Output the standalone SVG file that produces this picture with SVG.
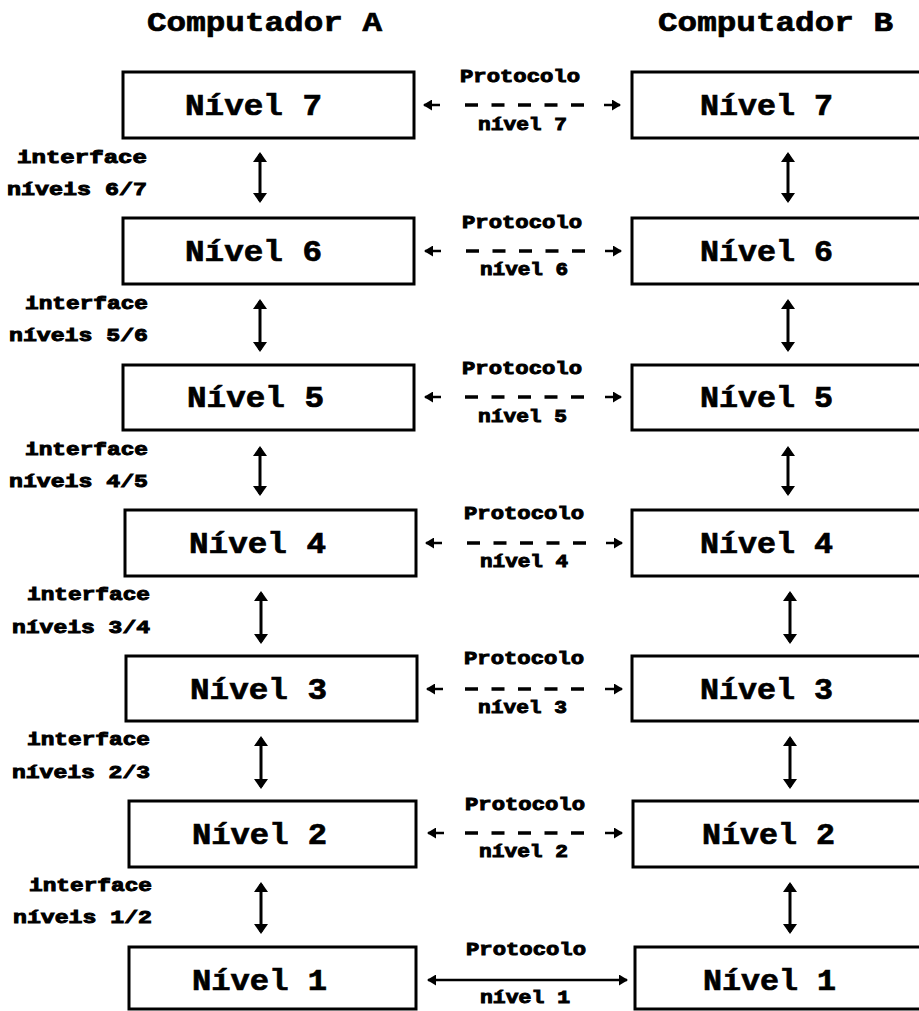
<svg xmlns="http://www.w3.org/2000/svg" width="919" height="1011" viewBox="0 0 919 1011">
<style>
.box{fill:#fff;stroke:#000;stroke-width:3}
.t{font-family:"Liberation Mono","DejaVu Sans Mono",monospace;font-weight:bold;fill:#000;stroke:#000;stroke-width:0.7}
.title{font-size:28px}
.nv{font-size:30px}
.sm{font-size:19px;stroke-width:1}
.v{stroke:#000;stroke-width:3;fill:none;marker-start:url(#vh);marker-end:url(#vh)}
.h{stroke:#000;stroke-width:2.5;fill:none;marker-end:url(#hh)}
.dash{stroke:#000;stroke-width:3.5;stroke-dasharray:13 13.5;fill:none}
.solid{stroke:#000;stroke-width:2.5;fill:none;marker-start:url(#hh);marker-end:url(#hh)}
</style>
<defs>
<marker id="vh" viewBox="0 0 10 14" markerUnits="userSpaceOnUse" markerWidth="10" markerHeight="14" refX="8" refY="7" orient="auto-start-reverse"><path d="M0,0 L10,7 L0,14 z" fill="#000"/></marker>
<marker id="hh" viewBox="0 0 9 11" markerUnits="userSpaceOnUse" markerWidth="9" markerHeight="11" refX="8" refY="5.5" orient="auto-start-reverse"><path d="M0,0 L9,5.5 L0,11 z" fill="#000"/></marker>
</defs>
<rect width="919" height="1011" fill="#fff"/>
<g id="titles">
<text class="t title" x="147" y="31" textLength="235" lengthAdjust="spacingAndGlyphs">Computador A</text>
<text class="t title" x="658" y="31" textLength="235" lengthAdjust="spacingAndGlyphs">Computador B</text>
</g>
<g id="A7"><rect class="box" x="123" y="72" width="291" height="66"/><text class="t nv" x="185" y="115" textLength="137" lengthAdjust="spacingAndGlyphs">Nível 7</text></g>
<g id="A6"><rect class="box" x="123" y="218" width="291" height="66"/><text class="t nv" x="185" y="261" textLength="137" lengthAdjust="spacingAndGlyphs">Nível 6</text></g>
<g id="A5"><rect class="box" x="123" y="365" width="291" height="65"/><text class="t nv" x="187" y="407" textLength="137" lengthAdjust="spacingAndGlyphs">Nível 5</text></g>
<g id="A4"><rect class="box" x="125" y="510" width="291" height="66"/><text class="t nv" x="189" y="553" textLength="137" lengthAdjust="spacingAndGlyphs">Nível 4</text></g>
<g id="A3"><rect class="box" x="126" y="656" width="291" height="65"/><text class="t nv" x="190" y="699" textLength="137" lengthAdjust="spacingAndGlyphs">Nível 3</text></g>
<g id="A2"><rect class="box" x="129" y="801" width="287" height="66"/><text class="t nv" x="192" y="844" textLength="135" lengthAdjust="spacingAndGlyphs">Nível 2</text></g>
<g id="A1"><rect class="box" x="129" y="947" width="287" height="62"/><text class="t nv" x="192" y="990" textLength="135" lengthAdjust="spacingAndGlyphs">Nível 1</text></g>
<g id="B7"><rect class="box" x="632" y="72" width="300" height="66"/><text class="t nv" x="700" y="115" textLength="133" lengthAdjust="spacingAndGlyphs">Nível 7</text></g>
<g id="B6"><rect class="box" x="632" y="218" width="300" height="66"/><text class="t nv" x="700" y="261" textLength="133" lengthAdjust="spacingAndGlyphs">Nível 6</text></g>
<g id="B5"><rect class="box" x="632" y="365" width="300" height="65"/><text class="t nv" x="700" y="407" textLength="133" lengthAdjust="spacingAndGlyphs">Nível 5</text></g>
<g id="B4"><rect class="box" x="632" y="510" width="300" height="66"/><text class="t nv" x="700" y="553" textLength="133" lengthAdjust="spacingAndGlyphs">Nível 4</text></g>
<g id="B3"><rect class="box" x="632" y="656" width="300" height="65"/><text class="t nv" x="700" y="699" textLength="133" lengthAdjust="spacingAndGlyphs">Nível 3</text></g>
<g id="B2"><rect class="box" x="633" y="801" width="300" height="66"/><text class="t nv" x="702" y="844" textLength="133" lengthAdjust="spacingAndGlyphs">Nível 2</text></g>
<g id="B1"><rect class="box" x="635" y="947" width="300" height="62"/><text class="t nv" x="703" y="990" textLength="133" lengthAdjust="spacingAndGlyphs">Nível 1</text></g>
<g id="interfaces">
<text class="t sm" x="17" y="163" textLength="130" lengthAdjust="spacingAndGlyphs">interface</text>
<text class="t sm" x="7" y="195" textLength="140" lengthAdjust="spacingAndGlyphs">níveis 6/7</text>
<text class="t sm" x="25" y="309" textLength="123" lengthAdjust="spacingAndGlyphs">interface</text>
<text class="t sm" x="9" y="341" textLength="139" lengthAdjust="spacingAndGlyphs">níveis 5/6</text>
<text class="t sm" x="25" y="455" textLength="123" lengthAdjust="spacingAndGlyphs">interface</text>
<text class="t sm" x="9" y="487" textLength="139" lengthAdjust="spacingAndGlyphs">níveis 4/5</text>
<text class="t sm" x="27" y="600" textLength="123" lengthAdjust="spacingAndGlyphs">interface</text>
<text class="t sm" x="12" y="633" textLength="138" lengthAdjust="spacingAndGlyphs">níveis 3/4</text>
<text class="t sm" x="27" y="745" textLength="123" lengthAdjust="spacingAndGlyphs">interface</text>
<text class="t sm" x="12" y="778" textLength="138" lengthAdjust="spacingAndGlyphs">níveis 2/3</text>
<text class="t sm" x="29" y="891" textLength="123" lengthAdjust="spacingAndGlyphs">interface</text>
<text class="t sm" x="13" y="923" textLength="139" lengthAdjust="spacingAndGlyphs">níveis 1/2</text>
</g>
<g id="protocol-labels">
<text class="t sm" x="460" y="82" textLength="120" lengthAdjust="spacingAndGlyphs">Protocolo</text>
<text class="t sm" x="478" y="130" textLength="89" lengthAdjust="spacingAndGlyphs">nível 7</text>
<text class="t sm" x="462" y="228" textLength="120" lengthAdjust="spacingAndGlyphs">Protocolo</text>
<text class="t sm" x="480" y="275" textLength="88" lengthAdjust="spacingAndGlyphs">nível 6</text>
<text class="t sm" x="462" y="374" textLength="120" lengthAdjust="spacingAndGlyphs">Protocolo</text>
<text class="t sm" x="478" y="422" textLength="89" lengthAdjust="spacingAndGlyphs">nível 5</text>
<text class="t sm" x="464" y="519" textLength="120" lengthAdjust="spacingAndGlyphs">Protocolo</text>
<text class="t sm" x="480" y="567" textLength="88" lengthAdjust="spacingAndGlyphs">nível 4</text>
<text class="t sm" x="464" y="664" textLength="120" lengthAdjust="spacingAndGlyphs">Protocolo</text>
<text class="t sm" x="478" y="713" textLength="89" lengthAdjust="spacingAndGlyphs">nível 3</text>
<text class="t sm" x="465" y="810" textLength="120" lengthAdjust="spacingAndGlyphs">Protocolo</text>
<text class="t sm" x="479" y="857" textLength="89" lengthAdjust="spacingAndGlyphs">nível 2</text>
<text class="t sm" x="466" y="955" textLength="120" lengthAdjust="spacingAndGlyphs">Protocolo</text>
<text class="t sm" x="480" y="1003" textLength="90" lengthAdjust="spacingAndGlyphs">nível 1</text>
</g>
<g id="connectors">
<line class="v" x1="260" y1="154" x2="260" y2="201"/>
<line class="v" x1="260" y1="301" x2="260" y2="350"/>
<line class="v" x1="260" y1="448" x2="260" y2="494"/>
<line class="v" x1="261" y1="593" x2="261" y2="642"/>
<line class="v" x1="261" y1="738" x2="261" y2="787"/>
<line class="v" x1="261" y1="884" x2="261" y2="932"/>
<line class="v" x1="788" y1="154" x2="788" y2="201"/>
<line class="v" x1="788" y1="301" x2="788" y2="350"/>
<line class="v" x1="788" y1="448" x2="788" y2="494"/>
<line class="v" x1="790" y1="593" x2="790" y2="642"/>
<line class="v" x1="790" y1="738" x2="790" y2="787"/>
<line class="v" x1="790" y1="884" x2="790" y2="932"/>
<line class="h" x1="440" y1="105" x2="424" y2="105"/><line class="dash" x1="465" y1="105" x2="584" y2="105"/><line class="h" x1="604" y1="105" x2="620" y2="105"/>
<line class="h" x1="441" y1="251" x2="425" y2="251"/><line class="dash" x1="466" y1="251" x2="585" y2="251"/><line class="h" x1="605" y1="251" x2="621" y2="251"/>
<line class="h" x1="441" y1="397" x2="425" y2="397"/><line class="dash" x1="465" y1="397" x2="584" y2="397"/><line class="h" x1="605" y1="397" x2="621" y2="397"/>
<line class="h" x1="442" y1="543" x2="426" y2="543"/><line class="dash" x1="467" y1="543" x2="586" y2="543"/><line class="h" x1="606" y1="543" x2="622" y2="543"/>
<line class="h" x1="443" y1="689" x2="427" y2="689"/><line class="dash" x1="465" y1="689" x2="584" y2="689"/><line class="h" x1="605" y1="689" x2="622" y2="689"/>
<line class="h" x1="444" y1="833" x2="428" y2="833"/><line class="dash" x1="465" y1="833" x2="584" y2="833"/><line class="h" x1="605" y1="833" x2="622" y2="833"/>
<line class="solid" x1="428" y1="980" x2="627" y2="980"/>
</g>
</svg>
